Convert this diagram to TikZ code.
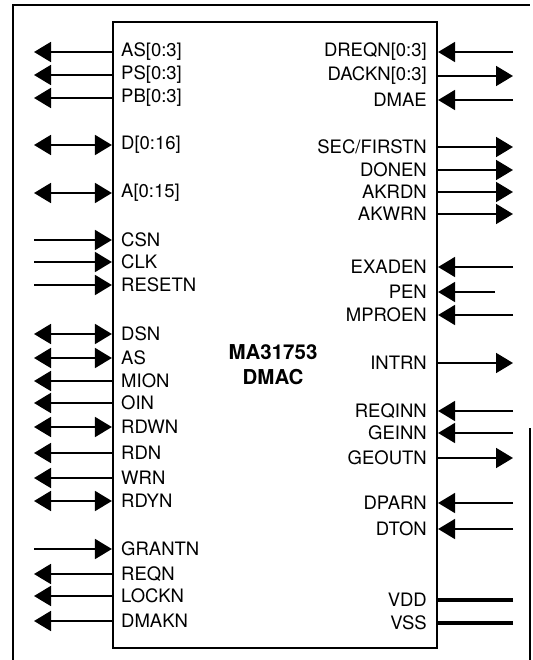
\documentclass[tikz,border=0pt]{standalone}
\usepackage{fontspec}
\setmainfont{TeX Gyre Heros}
\usetikzlibrary{arrows.meta, positioning}

\begin{document}
\begin{tikzpicture}[
    x=1pt, y=-1pt,
    every node/.style={font=\fontsize{18.5}{20}\selectfont, inner sep=0pt},
    frame/.style={line width=1.3pt},
    chipbox/.style={draw, line width=2.2pt, minimum width=324pt, minimum height=626pt},
    title/.style={font=\fontsize{20.5}{25}\selectfont\bfseries, align=center},
    sigin/.style={-{Triangle[length=17pt, width=20pt]}, line width=1.8pt},
    sigout/.style={{Triangle[length=17pt, width=20pt]}-, line width=1.8pt},
    sigio/.style={{Triangle[length=17pt, width=20pt]}-{Triangle[length=17pt, width=20pt]}, line width=1.8pt},
    power/.style={line width=3.8pt}
]

    \useasboundingbox (0,0) rectangle (532,660);

    % --- outer frame ---
    \draw[frame] (13,660) -- (13,5) -- (530,5);
    \draw[frame] (530,428) -- (530,660);

    % --- chip ---
    \node[chipbox] (chip) at (275,335) {};
    \node[title] (name) at (273,365) {MA31753\\DMAC};

    % --- left side pins ---
    \foreach \y/\txt/\dir [count=\n] in {52/AS[0:3]/sigout, 75/PS[0:3]/sigout, 98/PB[0:3]/sigout,
        145/D[0:16]/sigio, 193/A[0:15]/sigio,
        240/CSN/sigin, 262/CLK/sigin, 285/RESETN/sigin,
        334/DSN/sigio, 358/AS/sigio, 381/MION/sigout, 403/OIN/sigout, 427/RDWN/sigio,
        453/RDN/sigout, 478/WRN/sigout, 501/RDYN/sigio,
        549/GRANTN/sigin, 574/REQN/sigout, 596/LOCKN/sigout, 621/DMAKN/sigout} {
        \coordinate (Lb\n) at (chip.west |- 0,\y);
        \coordinate (Le\n) at (34,\y);
        \node[anchor=west] (L\n) at (121,\y) {\txt};
        \draw[\dir] (Le\n) -- (Lb\n);
    }

    % --- right side pins ---
    \foreach \y/\txt/\dir/\xe [count=\n] in {52/DREQN[0:3]/sigin/513, 76/DACKN[0:3]/sigout/513, 100/DMAE/sigin/513,
        147/SEC\slash FIRSTN/sigout/513, 170/DONEN/sigout/513, 192/AKRDN/sigout/513, 214/AKWRN/sigout/513,
        267/EXADEN/sigin/513, 292/PEN/sigin/495, 315/MPROEN/sigin/513,
        363/INTRN/sigout/513,
        411/REQINN/sigin/513, 433/GEINN/sigin/513, 458/GEOUTN/sigout/513,
        503/DPARN/sigin/513, 529/DTON/sigin/513,
        600/VDD/power/513, 623/VSS/power/513} {
        \coordinate (Rb\n) at (chip.east |- 0,\y);
        \coordinate (Re\n) at (\xe,\y);
        \node[anchor=east] (R\n) at (427,\y) {\txt};
        \draw[\dir] (Re\n) -- (Rb\n);
    }

\end{tikzpicture}
\end{document}
